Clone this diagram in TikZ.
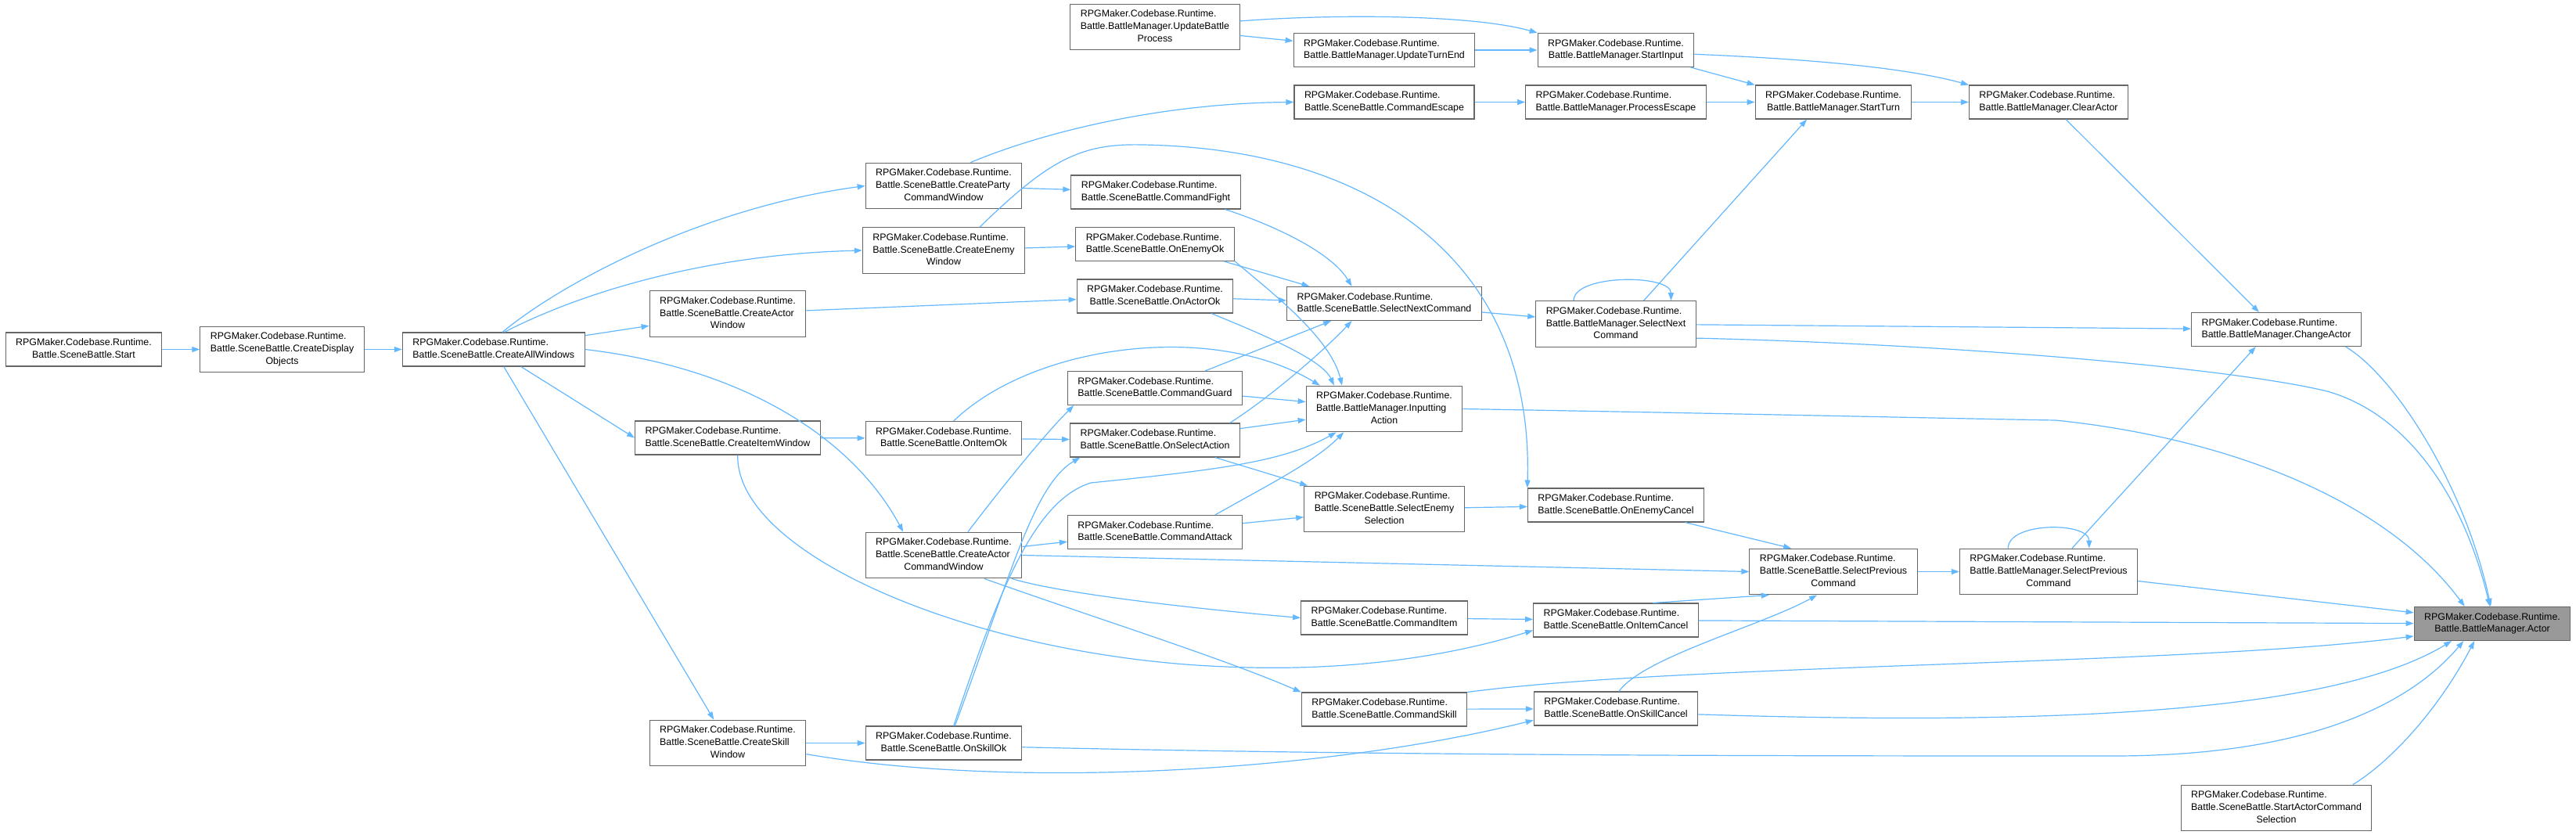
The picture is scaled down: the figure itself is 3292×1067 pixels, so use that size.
\documentclass[tikz,border=0pt]{standalone}
\usepackage{fontspec}
\setmainfont{Liberation Sans}
\usepackage{tikz}
\usetikzlibrary{arrows.meta,positioning}

\definecolor{edgeblue}{HTML}{63B8FF}
\definecolor{boxline}{HTML}{666666}
\definecolor{rootfill}{HTML}{999999}

% two- and three-line labels: first lines flush left, last line centred
\newcommand{\rtprefix}{RPGMaker.Codebase.Runtime.}
\newcommand{\fnb}[1]{\begin{tabular}{@{}l@{}}\rtprefix\\\multicolumn{1}{@{}c@{}}{#1}\end{tabular}}
\newcommand{\fnc}[2]{\begin{tabular}{@{}l@{}}\rtprefix\\#1\\\multicolumn{1}{@{}c@{}}{#2}\end{tabular}}

\begin{document}
\begin{tikzpicture}[
  x=1pt, y=-1pt,
  node distance=48pt,
  fnbox/.style={draw=boxline, line width=1.1pt, fill=white, inner xsep=13pt, inner ysep=5.8pt,
    font=\fontsize{12.4pt}{15.7pt}\selectfont},
  rootbox/.style={fnbox, fill=rootfill},
  callarrow/.style={edgeblue, line width=1.2pt, -{Triangle[length=10pt,width=7pt]}}
]
\fill[white] (0,0) rectangle (3292,1067);
\useasboundingbox (0,0) rectangle (3292,1067);

% callers, left to right
\node[fnbox] (start) at (107,446.5) {\fnb{Battle.SceneBattle.Start}};
\node[fnbox, right=of start] (displayobj) {\fnc{Battle.SceneBattle.CreateDisplay}{Objects}};
\node[fnbox, right=of displayobj] (allwin) {\fnb{Battle.SceneBattle.CreateAllWindows}};

\node[fnbox] (actorwin) at (930,401) {\fnc{Battle.SceneBattle.CreateActor}{Window}};
\node[fnbox] (itemwin) at (930,559.5) {\fnb{Battle.SceneBattle.CreateItemWindow}};
\node[fnbox] (skillwin) at (930,949.5) {\fnc{Battle.SceneBattle.CreateSkill}{Window}};

\node[fnbox] (partywin) at (1206,237.5) {\fnc{Battle.SceneBattle.CreateParty}{CommandWindow}};
\node[fnbox] (enemywin) at (1206,320) {\fnc{Battle.SceneBattle.CreateEnemy}{Window}};
\node[fnbox] (itemok) at (1206,560) {\fnb{Battle.SceneBattle.OnItemOk}};
\node[fnbox] (actorcmdwin) at (1206,709.5) {\fnc{Battle.SceneBattle.CreateActor}{CommandWindow}};
\node[fnbox] (skillok) at (1206,949.5) {\fnb{Battle.SceneBattle.OnSkillOk}};

\node[fnbox] (updatebattle) at (1476,34.5) {\fnc{Battle.BattleManager.UpdateBattle}{Process}};
\node[fnbox] (cmdfight) at (1477,245.5) {\fnb{Battle.SceneBattle.CommandFight}};
\node[fnbox] (enemyok) at (1476,312) {\fnb{Battle.SceneBattle.OnEnemyOk}};
\node[fnbox] (actorok) at (1476,378.5) {\fnb{Battle.SceneBattle.OnActorOk}};
\node[fnbox] (cmdguard) at (1476,496) {\fnb{Battle.SceneBattle.CommandGuard}};
\node[fnbox] (selaction) at (1476,562.5) {\fnb{Battle.SceneBattle.OnSelectAction}};
\node[fnbox] (cmdattack) at (1476,680) {\fnb{Battle.SceneBattle.CommandAttack}};

\node[fnbox] (turnend) at (1769,64) {\fnb{Battle.BattleManager.UpdateTurnEnd}};
\node[fnbox] (cmdescape) at (1769,130.5) {\fnb{Battle.SceneBattle.CommandEscape}};
\node[fnbox] (selnext) at (1769,388) {\fnb{Battle.SceneBattle.SelectNextCommand}};
\node[fnbox] (inputting) at (1769,522.5) {\fnc{Battle.BattleManager.Inputting}{Action}};
\node[fnbox] (selenemy) at (1769,650.5) {\fnc{Battle.SceneBattle.SelectEnemy}{Selection}};
\node[fnbox] (cmditem) at (1769,789.5) {\fnb{Battle.SceneBattle.CommandItem}};
\node[fnbox] (cmdskill) at (1769,906.5) {\fnb{Battle.SceneBattle.CommandSkill}};

\node[fnbox] (startinput) at (2065,64) {\fnb{Battle.BattleManager.StartInput}};
\node[fnbox] (procescape) at (2065,130.5) {\fnb{Battle.BattleManager.ProcessEscape}};
\node[fnbox] (bmselnext) at (2065,414) {\fnc{Battle.BattleManager.SelectNext}{Command}};
\node[fnbox] (enemycancel) at (2065,645.5) {\fnb{Battle.SceneBattle.OnEnemyCancel}};
\node[fnbox] (itemcancel) at (2065,792.5) {\fnb{Battle.SceneBattle.OnItemCancel}};
\node[fnbox] (skillcancel) at (2065,905.5) {\fnb{Battle.SceneBattle.OnSkillCancel}};

\node[fnbox] (startturn) at (2343,130.5) {\fnb{Battle.BattleManager.StartTurn}};
\node[fnbox] (selprev) at (2343,730.5) {\fnc{Battle.SceneBattle.SelectPrevious}{Command}};
\node[fnbox] (clearactor) at (2618,130.5) {\fnb{Battle.BattleManager.ClearActor}};
\node[fnbox] (bmselprev) at (2618,730.5) {\fnc{Battle.BattleManager.SelectPrevious}{Command}};
\node[fnbox] (changeactor) at (2909,421) {\fnb{Battle.BattleManager.ChangeActor}};
\node[fnbox] (startcmdsel) at (2909,1032.5) {\fnc{Battle.SceneBattle.StartActorCommand}{Selection}};

% the called function
\node[rootbox] (actor) at (3185,797) {\fnb{Battle.BattleManager.Actor}};

% calls
\draw[callarrow] (start) -- (displayobj);
\draw[callarrow] (displayobj) -- (allwin);
\draw[callarrow] (allwin.63) .. controls (720,360) and (900,265) .. (partywin.west);
\draw[callarrow] (allwin.58) .. controls (740,375) and (900,325) .. (enemywin.west);
\draw[callarrow] (allwin) -- (actorwin);
\draw[callarrow] (allwin) -- (itemwin.west);
\draw[callarrow] (allwin.east) .. controls (950,470) and (1090,560) .. (actorcmdwin.150);
\draw[callarrow] (allwin) -- (skillwin);

\draw[callarrow] (partywin) -- (cmdfight);
\draw[callarrow] (partywin.41) .. controls (1330,170) and (1480,132) .. (cmdescape.west);
\draw[callarrow] (enemywin) -- (enemyok);
\draw[callarrow] (enemywin.33) .. controls (1340,205) and (1380,183) .. (1460,185)
  .. controls (1750,190) and (1960,330) .. (enemycancel.north west);
\draw[callarrow] (actorwin) -- (actorok);
\draw[callarrow] (itemwin) -- (itemok);
\draw[callarrow] (itemwin.300) .. controls (940,710) and (1250,840) .. (1567,852)
  .. controls (1750,860) and (1880,830) .. (itemcancel.187);
\draw[callarrow] (skillwin) -- (skillok);
\draw[callarrow] (skillwin.352) .. controls (1300,1010) and (1700,985) .. (skillcancel.188);

\draw[callarrow] (itemok) -- (selaction);
\draw[callarrow] (itemok.60) .. controls (1320,440) and (1550,410) .. (inputting.160);
\draw[callarrow] (actorcmdwin) -- (cmdattack);
\draw[callarrow] (actorcmdwin.44) .. controls (1290,610) and (1340,550) .. (cmdguard.192);
\draw[callarrow] (actorcmdwin.341) .. controls (1360,760) and (1550,780) .. (cmditem.west);
\draw[callarrow] (actorcmdwin.330) .. controls (1400,790) and (1560,840) .. (cmdskill.north west);
\draw[callarrow] (actorcmdwin.east) -- (selprev.west);
\draw[callarrow] (skillok.57) .. controls (1290,740) and (1320,620) .. (selaction.193);
\draw[callarrow] (skillok.60) .. controls (1275,760) and (1320,640) .. (1394,617)
  .. controls (1560,600) and (1640,590) .. (inputting.206);

\draw[callarrow] (cmdfight.346) .. controls (1620,285) and (1700,320) .. (selnext.152);
\draw[callarrow] (enemyok.346) -- (selnext.167);
\draw[callarrow] (enemyok.348) .. controls (1620,370) and (1700,430) .. (inputting.151);
\draw[callarrow] (actorok) -- (selnext);
\draw[callarrow] (actorok.343) .. controls (1620,430) and (1690,460) .. (inputting.155);
\draw[callarrow] (cmdguard) -- (inputting);
\draw[callarrow] (cmdguard.19) -- (selnext.198);
\draw[callarrow] (selaction) -- (inputting);
\draw[callarrow] (selaction.344) -- (selenemy.163);
\draw[callarrow] (selaction.13) .. controls (1620,510) and (1690,450) .. (selnext.208);
\draw[callarrow] (cmdattack) -- (selenemy);
\draw[callarrow] (cmdattack.16) .. controls (1620,620) and (1680,590) .. (inputting.210);

\draw[callarrow] (updatebattle) -- (turnend);
\draw[callarrow] (updatebattle.4) .. controls (1700,18) and (1880,18) .. (startinput.north west);
\draw[callarrow] (turnend) -- (startinput);
\draw[callarrow] (cmdescape) -- (procescape);
\draw[callarrow] (selnext) -- (bmselnext);
\draw[callarrow] (selenemy) -- (enemycancel);
\draw[callarrow] (cmditem) -- (itemcancel);
\draw[callarrow] (cmdskill) -- (skillcancel);

\draw[callarrow] (startinput.357) .. controls (2300,75) and (2430,85) .. (clearactor.north west);
\draw[callarrow] (startinput.347) -- (startturn.north west);
\draw[callarrow] (procescape) -- (startturn);
\draw[callarrow] (bmselnext.40) -- (startturn.213);
\draw[callarrow] (bmselnext.151) .. controls +(0,-34) and +(0,-34) .. (bmselnext.23);
\draw[callarrow] (bmselnext) -- (changeactor);
\draw[callarrow] (enemycancel.346) -- (selprev.151);
\draw[callarrow] (itemcancel.25) -- (selprev.200);
\draw[callarrow] (skillcancel.80) .. controls (2100,840) and (2250,800) .. (selprev.235);

\draw[callarrow] (startturn) -- (clearactor);
\draw[callarrow] (selprev) -- (bmselprev);
\draw[callarrow] (clearactor) -- (changeactor);
\draw[callarrow] (bmselprev.45) -- (changeactor.220);
\draw[callarrow] (bmselprev.150) .. controls +(0,-34) and +(0,-34) .. (bmselprev.30);

% into Actor
\draw[callarrow] (inputting.east) .. controls (2300,530) and (2500,535) .. (2627,537)
  .. controls (2850,560) and (3050,640) .. (actor.148);
\draw[callarrow] (bmselnext.350) .. controls (2500,440) and (2850,470) .. (2974,500)
  .. controls (3080,530) and (3150,640) .. (actor.98);
\draw[callarrow] (changeactor.346) .. controls (3060,480) and (3150,620) .. (actor.95);
\draw[callarrow] (bmselprev.354) -- (actor.172);
\draw[callarrow] (itemcancel) -- (actor);
\draw[callarrow] (cmdskill.north east) .. controls (2150,848) and (2800,850) .. (actor.189);
\draw[callarrow] (skillcancel.356) .. controls (2700,930) and (3000,900) .. (actor.203);
\draw[callarrow] (skillok.357) .. controls (1800,966) and (2300,966) .. (2700,966)
  .. controls (2950,966) and (3080,900) .. (actor.211);
\draw[callarrow] (startcmdsel.17) .. controls (3060,970) and (3120,900) .. (actor.224);
\end{tikzpicture}
\end{document}
